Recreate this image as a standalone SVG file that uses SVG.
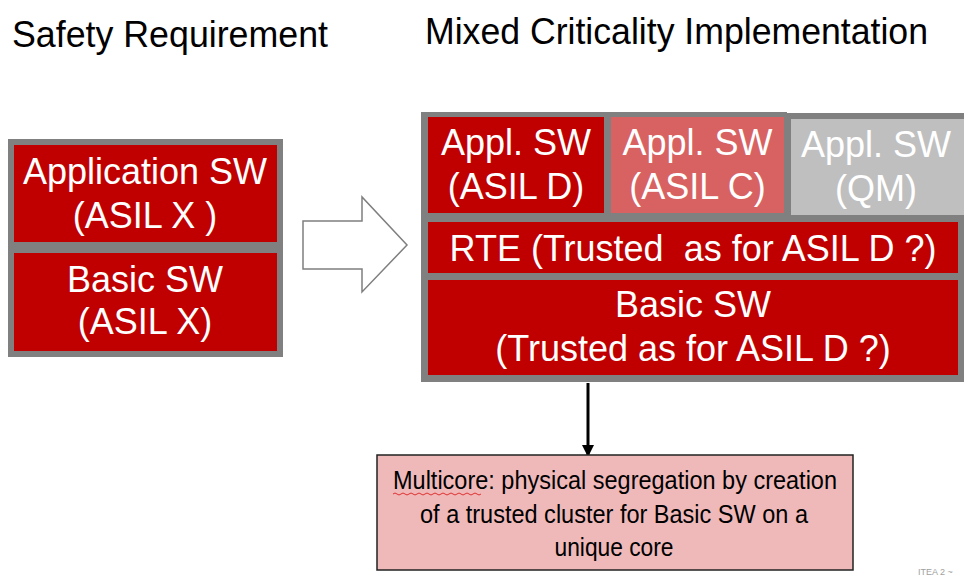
<svg xmlns="http://www.w3.org/2000/svg" width="964" height="577" viewBox="0 0 964 577">
<defs>
<style>
.t{font-family:"Liberation Sans",Arial,sans-serif;}
.title{font-size:36px;fill:#000;}
.bx{font-size:36px;fill:#fff;text-anchor:middle;}
.note{font-size:26px;fill:#000;text-anchor:middle;}
.red{fill:#C00000;}
.lbox{fill:#C00000;stroke:#808080;stroke-width:6;}
</style>
<marker id="ah" viewBox="0 0 10 10" refX="10" refY="5" markerWidth="4" markerHeight="4" markerUnits="strokeWidth" orient="auto">
<path d="M0,0 L10,5 L0,10 z" fill="#000"/>
</marker>
</defs>
<rect width="964" height="577" fill="#fff"/>
<text class="t title" x="12" y="47" textLength="316" lengthAdjust="spacingAndGlyphs">Safety Requirement</text>
<text class="t title" x="425" y="44" textLength="503" lengthAdjust="spacingAndGlyphs">Mixed Criticality Implementation</text>

<g id="left-app">
<rect class="lbox" x="11" y="142" width="269" height="103"/>
<text class="t bx" x="145" y="184">Application SW</text>
<text class="t bx" x="145" y="228">(ASIL X )</text>
</g>
<g id="left-basic">
<rect class="lbox" x="11" y="250" width="269" height="104"/>
<text class="t bx" x="145" y="292">Basic SW</text>
<text class="t bx" x="145" y="334">(ASIL X)</text>
</g>

<g id="block-arrow">
<path d="M303,221 L362,221 L362,197 L407,245 L362,292 L362,269 L303,269 Z" fill="#fff" stroke="#7f7f7f" stroke-width="1.5"/>
</g>

<g id="mc-frame">
<path d="M421,112 L787,112 L787,113 L964,113 L964,382 L421,382 Z" fill="#808080"/>
</g>
<g id="appl-d">
<rect class="red" x="428" y="117" width="176" height="96"/>
<text class="t bx" x="516" y="155">Appl. SW</text>
<text class="t bx" x="516" y="199">(ASIL D)</text>
</g>
<g id="appl-c">
<rect x="611" y="117" width="173" height="96" fill="#D86262"/>
<text class="t bx" x="697.5" y="155">Appl. SW</text>
<text class="t bx" x="697.5" y="199">(ASIL C)</text>
</g>
<g id="appl-qm">
<rect x="791" y="119" width="173" height="96" fill="#BFBFBF"/>
<text class="t bx" x="876" y="157" fill="#f4f4f4">Appl. SW</text>
<text class="t bx" x="876" y="201" fill="#f4f4f4">(QM)</text>
</g>
<g id="rte">
<rect class="red" x="428" y="222" width="530" height="51"/>
<text class="t bx" x="693" y="261" xml:space="preserve">RTE (Trusted  as for ASIL D ?)</text>
</g>
<g id="basic-sw">
<rect class="red" x="428" y="280" width="530" height="95"/>
<text class="t bx" x="693" y="317">Basic SW</text>
<text class="t bx" x="693" y="361">(Trusted as for ASIL D ?)</text>
</g>

<g id="connectors">
<line x1="588" y1="383" x2="588" y2="457" stroke="#000" stroke-width="3" marker-end="url(#ah)"/>
</g>

<g id="multicore-note">
<rect x="377" y="455" width="476" height="115" fill="#EFB9B9" stroke="#222" stroke-width="1.5"/>
<text class="t note" x="615" y="489" textLength="444" lengthAdjust="spacingAndGlyphs">Multicore: physical segregation by creation</text>
<text class="t note" x="614" y="523" textLength="388" lengthAdjust="spacingAndGlyphs">of a trusted cluster for Basic SW on a</text>
<text class="t note" x="614" y="556" textLength="119" lengthAdjust="spacingAndGlyphs">unique core</text>
<path d="M393,494 q2,-2 4,0 t4,0 t4,0 t4,0 t4,0 t4,0 t4,0 t4,0 t4,0 t4,0 t4,0 t4,0 t4,0 t4,0 t4,0 t4,0 t4,0 t4,0 t4,0 t4,0 t4,0 t4,0" fill="none" stroke="#e03030" stroke-width="1"/>
</g>
<text class="t" x="918" y="575" font-size="9" fill="#a0a0a0">ITEA 2 ~</text>
</svg>
